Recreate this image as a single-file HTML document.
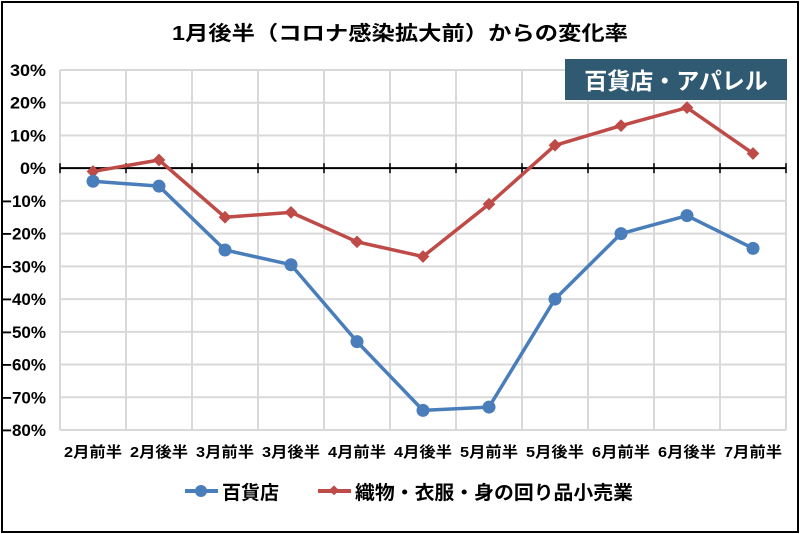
<!DOCTYPE html>
<html><head><meta charset="utf-8"><style>
body{margin:0;background:#fff;}
svg{display:block;font-family:"Liberation Sans","Noto Sans CJK JP",sans-serif;}
</style></head><body>
<svg id="c" width="800" height="534">
<rect x="2" y="2" width="796" height="530" fill="#fff" stroke="#000" stroke-width="2"/>
<text x="172" y="40" font-size="20" font-weight="bold" textLength="456" lengthAdjust="spacingAndGlyphs">1月後半（コロナ感染拡大前）からの変化率</text>
<g id="grid"></g><g id="axes"></g><g id="series"></g>
<rect x="565" y="59" width="222" height="41" fill="#2f5a72"/>
<text x="676" y="89" text-anchor="middle" font-size="23" font-weight="bold" fill="#fff">百貨店・アパレル</text>
<g>
<line x1="185" y1="491" x2="218" y2="491" stroke="#4a7ebb" stroke-width="4"/>
<circle cx="201" cy="491" r="6" fill="#4a7ebb"/>
<text x="222" y="499" font-size="19" font-weight="bold">百貨店</text>
<line x1="318" y1="491" x2="351" y2="491" stroke="#be4b48" stroke-width="4"/>
<rect x="330" y="487" width="7" height="7" fill="#be4b48" transform="rotate(45 334 491)"/>
<text x="355" y="499" font-size="19" font-weight="bold" textLength="278" lengthAdjust="spacingAndGlyphs">織物・衣服・身の回り品小売業</text>
</g>
</svg>
<script>
const categories=["2月前半","2月後半","3月前半","3月後半","4月前半","4月後半","5月前半","5月後半","6月前半","6月後半","7月前半"];
const deptStore=[-4,-5.5,-25,-29.5,-53,-74,-73,-40,-20,-14.5,-24.5];
const apparel=[-1,2.5,-15,-13.5,-22.5,-27,-11,7,13,18.5,4.5];
const yTicks=[30,20,10,0,-10,-20,-30,-40,-50,-60,-70,-80];
const NS="http://www.w3.org/2000/svg";
const L=60,R=786,T=70,B=430,yMax=30,yMin=-80;
const bw=(R-L)/categories.length;
const X=i=>L+bw*(i+0.5);
const Y=v=>T+(yMax-v)/(yMax-yMin)*(B-T);
function mk(tag,attrs,parent){const e=document.createElementNS(NS,tag);for(const k in attrs)e.setAttribute(k,attrs[k]);parent.appendChild(e);return e;}
const grid=document.getElementById('grid'),axes=document.getElementById('axes'),ser=document.getElementById('series');
yTicks.forEach(t=>{
 if(t!==0){const g=mk('line',{x1:L,x2:R,y1:Y(t),y2:Y(t),stroke:'#d9d9d9','stroke-width':2},grid);
 
 }
 const tx=mk('text',{x:46,y:Y(t)+6,'text-anchor':'end','font-size':17,'font-weight':'bold'},axes);
 tx.textContent=(t<0?'−':'')+Math.abs(t)+'%';
 tx.setAttribute('textLength',t<0?44:(t===0?26:36));
 tx.setAttribute('lengthAdjust','spacingAndGlyphs');
 
 
});
for(let i=0;i<=categories.length;i++){
 const x=L+bw*i;
 const g=mk('line',{x1:x,x2:x,y1:T,y2:B,stroke:'#d9d9d9','stroke-width':2},grid);
 
 
 const tk=mk('line',{x1:x,x2:x,y1:Y(0)-5,y2:Y(0)+5,stroke:'#000','stroke-width':1.5},axes);
 
 
}
const ax=mk('line',{x1:L,x2:R,y1:Y(0),y2:Y(0),stroke:'#000','stroke-width':2},axes);


categories.forEach((c,i)=>{
 const tx=mk('text',{x:X(i)-29,y:457,'font-size':15,'font-weight':'bold',textLength:58,lengthAdjust:'spacingAndGlyphs'},axes);
 tx.textContent=c;
 
 
});
function line(vals,color,name){
 const p=mk('polyline',{points:vals.map((v,i)=>X(i)+','+Y(v)).join(' '),fill:'none',stroke:color,'stroke-width':3.5,'stroke-linejoin':'round'},ser);
 
 
}
line(apparel,'#be4b48','apparel');
line(deptStore,'#4a7ebb','dept-store');
apparel.forEach((v,i)=>{
 const m=mk('rect',{x:X(i)-4.5,y:Y(v)-4.5,width:9,height:9,fill:'#be4b48',transform:'rotate(45 '+X(i)+' '+Y(v)+')'},ser);
 
 
});
deptStore.forEach((v,i)=>{
 const m=mk('circle',{cx:X(i),cy:Y(v),r:6.5,fill:'#4a7ebb'},ser);
 
 
});
</script>
</body></html>
